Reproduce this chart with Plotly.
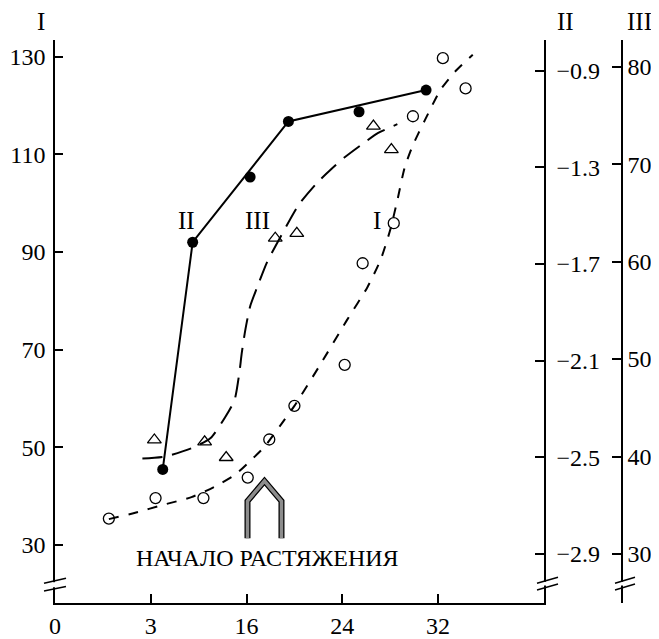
import plotly.graph_objects as go

# ---------------- data ----------------
# Curve I : open circles, left axis "I"
I_X = [4.5, 8.4, 12.4, 16.1, 17.9, 20.0, 24.2, 25.7, 28.3, 29.9, 32.4, 34.3]
I_Y = [35.4, 39.6, 39.6, 43.8, 51.6, 58.5, 66.9, 87.7, 95.9, 117.8, 129.7, 123.5]
# hand-drawn smooth curve through series I
I_FIT_X = [4.5, 6.7, 9.0, 11.4, 13.3, 15.0, 16.3, 17.5, 18.8, 20.0, 22.1, 24.4,
           26.1, 27.2, 28.0, 28.6, 29.2, 29.9, 30.9, 32.2, 33.4, 34.9]
I_FIT_Y = [35.3, 36.6, 38.2, 39.8, 41.9, 44.3, 47.2, 50.1, 54.4, 58.5, 66.7, 76.1,
           82.8, 88.4, 94.5, 100.6, 107.2, 111.9, 117.0, 123.2, 126.9, 130.4]

# Curve II : filled circles, right axis "II"
II_X = [9.0, 11.5, 16.3, 19.5, 25.4, 31.0]
II_Y = [-2.55, -1.61, -1.34, -1.11, -1.07, -0.98]
II_LINE_X = [9.0, 11.5, 19.5, 31.0]
II_LINE_Y = [-2.55, -1.61, -1.11, -0.98]

# Curve III : open triangles, right axis "III"
III_X = [8.3, 12.5, 14.3, 18.4, 20.2, 26.6, 28.1]
III_Y = [41.7, 41.5, 39.9, 62.4, 62.9, 73.9, 71.5]
III_FIT_X = [7.3, 9.2, 11.5, 13.0, 14.2, 15.0, 15.4, 15.6, 15.9, 16.3, 16.9, 17.7,
             19.0, 20.4, 21.9, 23.0, 24.2, 25.5, 27.0, 28.6]
III_FIT_Y = [39.8, 40.0, 40.9, 41.9, 44.0, 45.8, 48.6, 50.6, 53.0, 55.4, 57.4, 59.9,
             62.9, 65.9, 68.1, 69.4, 70.7, 71.9, 73.2, 74.1]

# axes
X_TICKS = [0, 8, 16, 24, 32]
X_TICKTEXT = ["0", "3", "16", "24", "32"]
YI_TICKS = [30, 50, 70, 90, 110, 130]
YII_TICKS = [-2.9, -2.5, -2.1, -1.7, -1.3, -0.9]
YII_TICKTEXT = ["\u22122.9", "\u22122.5", "\u22122.1", "\u22121.7", "\u22121.3", "\u22120.9"]
YIII_TICKS = [30, 40, 50, 60, 70, 80]

# "start of stretching" arrow (axis I units)
ARROW_X = [16.08, 16.08, 17.5, 18.92, 18.92]
ARROW_Y = [31.4, 39.0, 43.1, 39.0, 31.4]

FONT = "Liberation Serif"
XDOM = 489 / 567

fig = go.Figure()

# curve I
fig.add_trace(go.Scatter(x=I_FIT_X, y=I_FIT_Y, mode="lines",
                         line=dict(color="black", width=2, dash="10px,10px",
                                   shape="spline", smoothing=0.6),
                         xaxis="x", yaxis="y", showlegend=False))
fig.add_trace(go.Scatter(x=I_X, y=I_Y, mode="markers",
                         marker=dict(symbol="circle-open", size=11, color="black",
                                     line=dict(width=1.3)),
                         xaxis="x", yaxis="y", showlegend=False))
# curve III
fig.add_trace(go.Scatter(x=III_FIT_X, y=III_FIT_Y, mode="lines",
                         line=dict(color="black", width=2, dash="20px,10px",
                                   shape="spline", smoothing=0.6),
                         xaxis="x", yaxis="y3", showlegend=False))
fig.add_trace(go.Scatter(x=III_X, y=III_Y, mode="markers",
                         marker=dict(symbol="triangle-up-open", size=12, color="black",
                                     line=dict(width=1.3)),
                         xaxis="x", yaxis="y3", showlegend=False))
# curve II
fig.add_trace(go.Scatter(x=II_LINE_X, y=II_LINE_Y, mode="lines",
                         line=dict(color="black", width=2),
                         xaxis="x", yaxis="y2", showlegend=False))
fig.add_trace(go.Scatter(x=II_X, y=II_Y, mode="markers",
                         marker=dict(symbol="circle", size=11, color="black"),
                         xaxis="x", yaxis="y2", showlegend=False))

axis_common = dict(showgrid=False, zeroline=False, showline=True, linecolor="black",
                   linewidth=1.5, ticks="inside", tickcolor="black", tickwidth=1.5,
                   automargin=False,
                   tickfont=dict(family=FONT, size=24, color="black"))

# the page body adds an 8px offset, so the figure is 8px smaller
fig.update_layout(
    width=651, height=631,
    margin=dict(l=47, r=37, t=32, b=36, autoexpand=False),
    paper_bgcolor="white", plot_bgcolor="white",
    showlegend=False, hovermode=False,
    font=dict(family=FONT, color="black"),
    xaxis=dict(domain=[0, XDOM], range=[0, 40.85], tickvals=X_TICKS,
               ticktext=X_TICKTEXT, ticklen=9, anchor="y",
               ticklabelstandoff=0, **axis_common),
    yaxis=dict(range=[18.12, 133.42], tickvals=YI_TICKS, ticklen=8, anchor="x",
               ticklabelstandoff=3, **axis_common),
    yaxis2=dict(range=[-3.103, -0.773], tickvals=YII_TICKS, ticktext=YII_TICKTEXT,
                ticklen=9, overlaying="y", anchor="x", side="right",
                ticklabelstandoff=6, **axis_common),
    yaxis3=dict(range=[24.97, 82.74], tickvals=YIII_TICKS, ticklen=9,
                overlaying="y", anchor="free", position=1.0, side="right",
                ticklabelstandoff=0, **axis_common),
)

# axis titles
for txt, px in [("I", 41), ("II", 565), ("III", 639)]:
    fig.add_annotation(text=txt, xref="paper", yref="paper",
                       x=(px - 55) / 567, y=(603 - 21) / 563, showarrow=False,
                       font=dict(family=FONT, size=25, color="black"),
                       xanchor="center", yanchor="middle")

# curve labels (axis I units)
for txt, xv in [("II", 11.0), ("III", 16.9), ("I", 26.87)]:
    fig.add_annotation(text=txt, x=xv, y=96.5, xref="x", yref="y", showarrow=False,
                       font=dict(family=FONT, size=25, color="black"),
                       xanchor="center", yanchor="middle")

fig.add_annotation(text="НАЧАЛО РАСТЯЖЕНИЯ", x=17.71, y=27.3, xref="x", yref="y",
                   showarrow=False, font=dict(family=FONT, size=24, color="black"),
                   xanchor="center", yanchor="middle")

# arrow (hatched look: black outline with grey core)
path = "M " + " L ".join(f"{x},{y}" for x, y in zip(ARROW_X, ARROW_Y))
fig.add_shape(type="path", path=path, xref="x", yref="y",
              line=dict(color="black", width=6))
fig.add_shape(type="path", path=path, xref="x", yref="y",
              line=dict(color="#8c8c8c", width=3.5))

# axis break marks
YB = (603 - 584.5) / 563
breaks = [(0.0, -11, 11, -6.4, -2.1, 1.3, 6.3),
          (XDOM, -7, 14, -5.5, 0.5, 1.2, 7.2),
          (1.0, -7, 13, -5.5, 0.5, 1.2, 7.2)]
for xa, xl, xr, l0, l1, u0, u1 in breaks:
    fig.add_shape(type="rect", xref="paper", yref="paper", xsizemode="pixel",
                  ysizemode="pixel", xanchor=xa, yanchor=YB, x0=-2, x1=2,
                  y0=(l0 + l1) / 2 + 1.5, y1=(u0 + u1) / 2 - 1.5,
                  fillcolor="white", line=dict(width=0))
    for a, b in [(l0, l1), (u0, u1)]:
        fig.add_shape(type="line", xref="paper", yref="paper", xsizemode="pixel",
                      ysizemode="pixel", xanchor=xa, yanchor=YB, x0=xl, x1=xr,
                      y0=a, y1=b, line=dict(color="black", width=1.5))

fig.write_html("out.html", config={"displayModeBar": False})
